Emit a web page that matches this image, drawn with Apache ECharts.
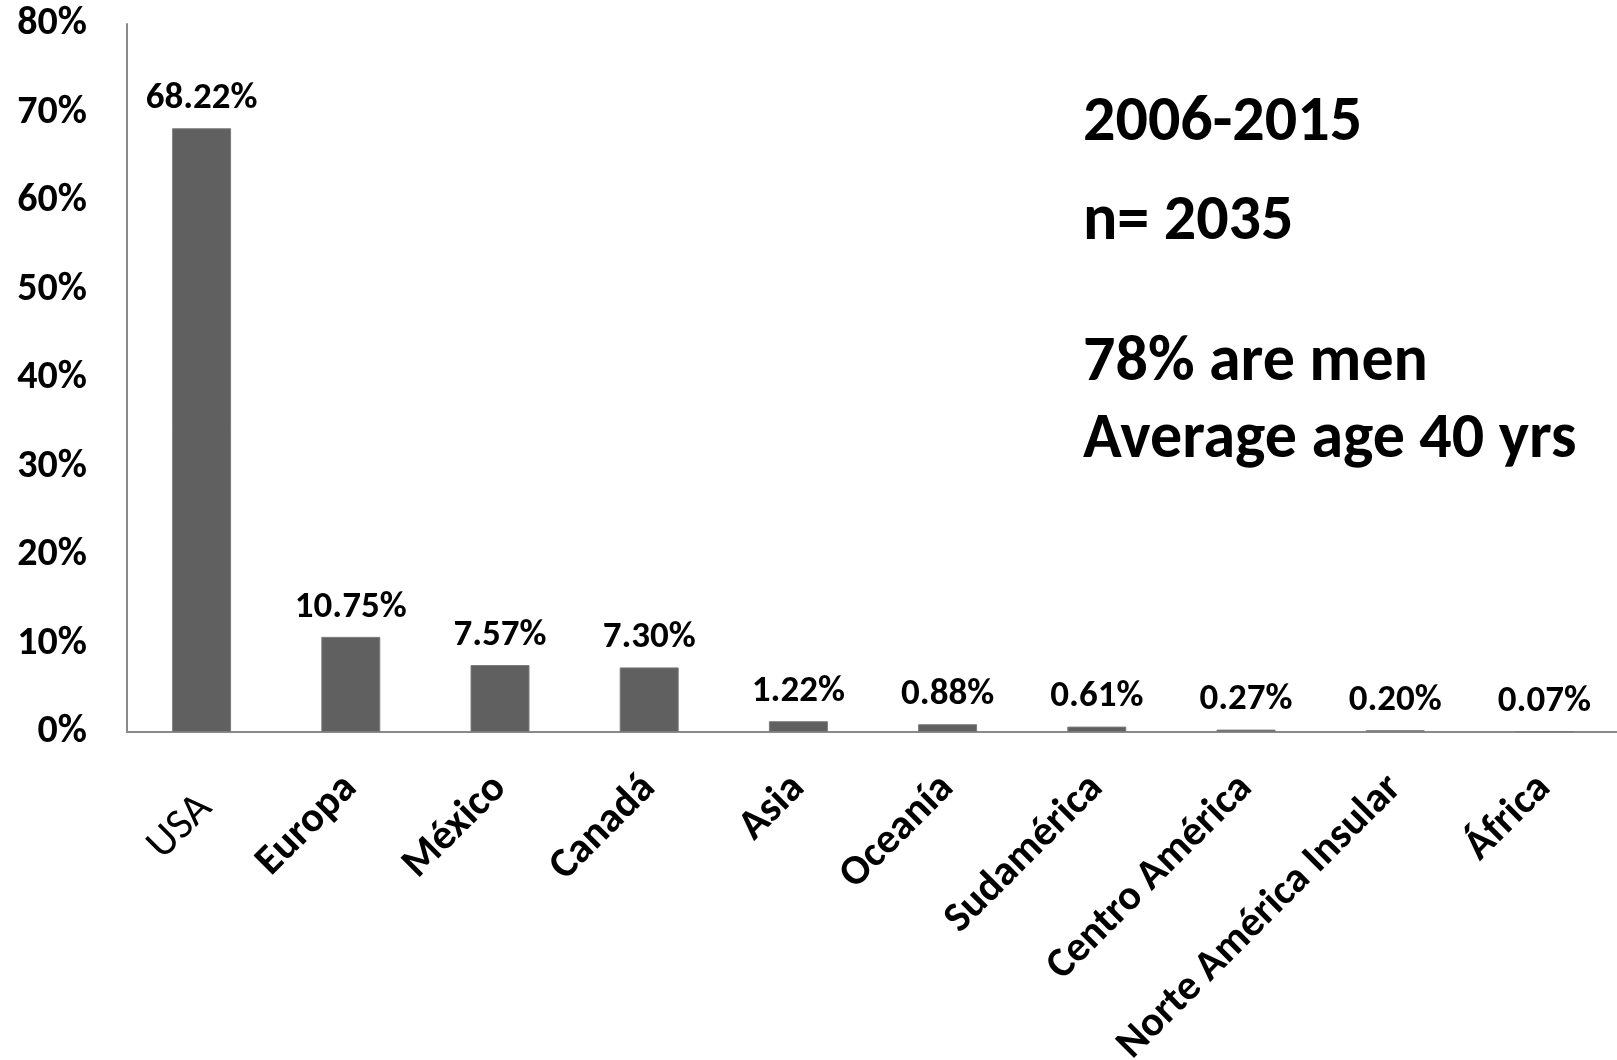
<!DOCTYPE html>
<html>
<head>
<meta charset="utf-8">
<script src="https://cdn.jsdelivr.net/npm/echarts@6/dist/echarts.min.js"></script>
<style>
  html, body { margin: 0; padding: 0; background: #ffffff; }
  #chart { width: 1617px; height: 1060px; }
</style>
</head>
<body>
<div id="chart"></div>
<script>
// Region of origin, share of cases (%)
const regions = ['USA', 'Europa', 'México', 'Canadá', 'Asia', 'Oceanía', 'Sudamérica', 'Centro América', 'Norte América Insular', 'África'];
const shares = [68.22, 10.75, 7.57, 7.30, 1.22, 0.88, 0.61, 0.27, 0.20, 0.07];
const shareLabels = ['68.22%', '10.75%', '7.57%', '7.30%', '1.22%', '0.88%', '0.61%', '0.27%', '0.20%', '0.07%'];
const yTicks = [0, 10, 20, 30, 40, 50, 60, 70, 80];
const notes = ['2006-2015', 'n= 2035', '78% are men', 'Average age 40 yrs'];

const FONT = 'Carlito, Calibri, Lato, "Open Sans", sans-serif';

const chart = echarts.init(document.getElementById('chart'), null, { renderer: 'canvas' });

const noteY = [124, 223, 364, 441];

chart.setOption({
  backgroundColor: '#ffffff',
  animation: false,
  grid: { left: 127, top: 24, width: 1492, height: 708, containLabel: false, outerBoundsMode: 'none' },
  xAxis: {
    type: 'category',
    data: regions,
    axisLine: { show: true, lineStyle: { color: '#8a8a8a', width: 2 } },
    axisTick: { show: false },
    axisLabel: {
      interval: 0,
      rotate: 45,
      margin: 50,
      hideOverlap: false,
      formatter: (v, i) => (i === 0 ? '{r|' + v + '}' : '{b|' + v + '}'),
      rich: {
        // the first label is set in regular weight and sits a little lower
        r: { fontFamily: FONT, fontSize: 43, fontWeight: 'normal', color: '#000', padding: [34, 11, 0, 0] },
        b: { fontFamily: FONT, fontSize: 42, fontWeight: 'bold', color: '#000' }
      }
    }
  },
  yAxis: {
    type: 'value',
    min: yTicks[0],
    max: yTicks[yTicks.length - 1],
    interval: 10,
    splitLine: { show: false },
    axisLine: { show: true, lineStyle: { color: '#8a8a8a', width: 2 } },
    axisTick: { show: false },
    axisLabel: {
      margin: 40,
      formatter: '{value}%',
      fontFamily: FONT,
      fontSize: 40,
      fontWeight: 'bold',
      color: '#000',
      padding: [18, 0, 0, 0]
    }
  },
  series: [{
    type: 'bar',
    data: shares,
    barWidth: 59,
    itemStyle: { color: '#606060', borderColor: '#7c7c7c', borderWidth: 1 },
    label: {
      show: true,
      position: 'top',
      distance: 11,
      formatter: p => shareLabels[p.dataIndex],
      fontFamily: FONT,
      fontSize: 37,
      fontWeight: 'bold',
      color: '#000'
    }
  }],
  graphic: notes.map((t, i) => ({
    type: 'text',
    x: 1083,
    y: noteY[i],
    style: {
      text: t,
      font: 'bold 64px ' + FONT,
      fill: '#000',
      textAlign: 'left',
      textVerticalAlign: 'middle',
      align: 'left',
      verticalAlign: 'middle'
    }
  }))
});
</script>
</body>
</html>
